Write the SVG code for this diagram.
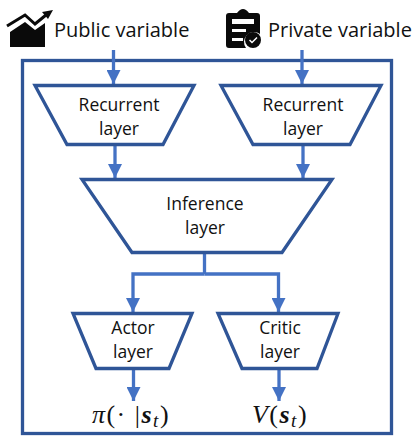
<svg xmlns="http://www.w3.org/2000/svg" width="415" height="438" viewBox="0 0 415 438">
<style>
.frame{fill:none;stroke:#2F5597;stroke-width:3.300}
.trap{fill:#fff;stroke:#2F5597;stroke-width:3.300;stroke-linejoin:miter}
.conn{fill:none;stroke:#4472C4;stroke-width:3.300}
.t{font-family:"Open Sans","Noto Sans",sans-serif;fill:#111;text-anchor:middle;font-size:17.500px}
.h{font-family:"Open Sans","Noto Sans",sans-serif;fill:#111;font-size:20px}
.m{font-family:"Liberation Serif",serif;fill:#111;font-size:26px;text-anchor:middle;letter-spacing:1.500px}
.icon{fill:#0a0a0a}
</style>
<defs><marker id="a" markerUnits="userSpaceOnUse" markerWidth="14" markerHeight="14" refX="14" refY="7" orient="auto"><path d="M0 0L14 7L0 14Z" fill="#4472C4"/></marker></defs>
<rect id="frame" class="frame" x="22.500" y="60.500" width="369" height="373"/>
<g id="connectors">
<path class="conn" d="M113.500 50V84" marker-end="url(#a)"/>
<path class="conn" d="M302 50V84" marker-end="url(#a)"/>
<path class="conn" d="M115 145V178" marker-end="url(#a)"/>
<path class="conn" d="M303 145V178" marker-end="url(#a)"/>
<path class="conn" d="M204.500 252V274"/>
<path class="conn" d="M204.500 274H133V312" marker-end="url(#a)"/>
<path class="conn" d="M204.500 274H278.500V312" marker-end="url(#a)"/>
<path class="conn" d="M133.500 369V401" marker-end="url(#a)"/>
<path class="conn" d="M279 369V401" marker-end="url(#a)"/>
</g>
<g id="public-variable">
<path class="icon" d="M10 47V32L25 22L35 30L45 23V47Z"/>
<path d="M7 26L25 15L35 24L46 15" fill="none" stroke="#0a0a0a" stroke-width="3"/>
<path class="icon" d="M42 12L53 10L48 19Z"/>
<text class="h" x="54" y="37">Public variable</text>
</g>
<g id="private-variable">
<path class="icon" fill-rule="evenodd" d="M226 16Q226 13 229 13H237Q240 9 243 9Q246 9 249 13H257Q260 13 260 16V34A10 10 0 0 0 246 48H229Q226 48 226 45ZM232 19V24H254V19ZM232 29V32H246V29ZM232 38V41H243V38Z"/>
<circle class="icon" cx="253" cy="40" r="8"/>
<path d="M249.500 40L252 42.500L257 37.500" fill="none" stroke="#fff" stroke-width="1.500"/>
<text class="h" x="268" y="37">Private variable</text>
</g>
<g id="recurrent-public">
<path class="trap" d="M35 85.500H194L163 144.500H67Z"/>
<text class="t" x="119" y="111">Recurrent</text><text class="t" x="119" y="135">layer</text>
</g>
<g id="recurrent-private">
<path class="trap" d="M221 85.500H381L350 144.500H253Z"/>
<text class="t" x="303" y="111">Recurrent</text><text class="t" x="303" y="135">layer</text>
</g>
<g id="inference">
<path class="trap" d="M82 179.500H332L282 252.500H132Z"/>
<text class="t" x="205" y="210">Inference</text><text class="t" x="205" y="234">layer</text>
</g>
<g id="actor">
<path class="trap" d="M73 313.500H192L169 368.500H96Z"/>
<text class="t" x="133" y="334">Actor</text><text class="t" x="133" y="358">layer</text>
</g>
<g id="critic">
<path class="trap" d="M218 313.500H338L317 368.500H242Z"/>
<text class="t" x="280" y="334">Critic</text><text class="t" x="280" y="358">layer</text>
</g>
<text class="m" x="131" y="423"><tspan font-style="italic">π</tspan>(· |<tspan font-weight="bold" font-style="italic">s</tspan><tspan font-style="italic" font-size="19" dy="4">t</tspan><tspan dy="-4">)</tspan></text>
<text class="m" x="280" y="423"><tspan font-style="italic">V</tspan>(<tspan font-weight="bold" font-style="italic">s</tspan><tspan font-style="italic" font-size="19" dy="4">t</tspan><tspan dy="-4">)</tspan></text>
</svg>
